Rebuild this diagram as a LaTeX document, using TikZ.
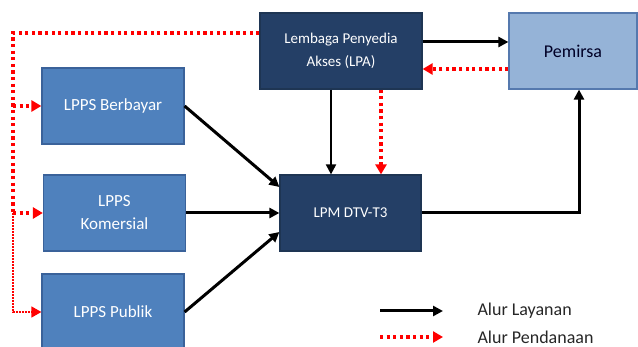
\documentclass[tikz,border=0pt]{standalone}
\usepackage{fontspec}
\setmainfont{Carlito}
\usetikzlibrary{arrows.meta}
\definecolor{lppsfill}{HTML}{4F81BD}
\definecolor{lppsline}{HTML}{3A629A}
\definecolor{navyfill}{HTML}{243F66}
\definecolor{navyline}{HTML}{1E3553}
\definecolor{pemfill}{HTML}{95B3D7}
\definecolor{pemline}{HTML}{5579AE}
\tikzset{
  lpps/.style={draw=lppsline, fill=lppsfill, line width=1.2pt, text=white, inner sep=0pt,
    minimum width=142pt, minimum height=76pt, align=center, font=\fontsize{17}{23}\selectfont},
  navy/.style={draw=navyline, fill=navyfill, line width=1.2pt, text=white, inner sep=0pt,
    minimum height=76pt, align=center, font=\fontsize{15}{23}\selectfont},
  flow/.style={draw=black, line width=3pt, -{Triangle[length=10pt, width=10pt]}},
  fund/.style={draw=red, line width=3.2pt, dash pattern=on 3.2pt off 3.4pt, -{Triangle[length=10pt, width=11pt]}}
}
\begin{document}
\begin{tikzpicture}[x=1pt, y=-1pt]
    \useasboundingbox (0,0) rectangle (638,347);

    % Boxes
    \node[navy, minimum width=162pt] (lpa) at (341,51) {Lembaga Penyedia\\Akses (LPA)};
    \node[draw=pemline, fill=pemfill, line width=1.2pt, inner sep=0pt, minimum width=128pt,
      minimum height=76pt, text=black!85!blue, font=\fontsize{18}{22}\selectfont] (pem) at (573,51) {Pemirsa};
    \node[lpps] (bay) at (113,106) {LPPS Berbayar};
    \node[lpps] (kom) at (114.5,213) {LPPS\\Komersial};
    \node[lpps] (pub) at (113,312) {LPPS Publik};
    \node[navy, minimum width=141pt] (lpm) at (350.5,213) {LPM DTV-T3};

    % Alur Layanan
    \draw[flow] ([yshift=9pt]lpa.east) -- ([yshift=9pt]pem.west);
    \draw[flow, line width=2pt] ([xshift=-10pt]lpa.south) -- ([xshift=-10pt]lpa.south |- lpm.north);
    \draw[flow] (lpm.east) -| ([xshift=6pt]pem.south);
    \draw[flow] (bay.east) -- ([yshift=26pt]lpm.west);
    \draw[flow] (kom.east) -- (lpm.west);
    \draw[flow] (pub.east) -- ([yshift=-19pt]lpm.west);

    % Alur Pendanaan
    \coordinate (rail) at (13,0);
    \draw[fund] ([yshift=-18pt]pem.west) -- ([yshift=-18pt]lpa.east);
    \draw[fund] ([xshift=40pt]lpa.south) -- ([xshift=40pt]lpa.south |- lpm.north);
    \draw[fund, -] ([yshift=18pt]lpa.west) -| (rail |- kom.west);
    \draw[fund] (rail |- bay.west) -- (bay.west);
    \draw[fund] (rail |- kom.west) -- (kom.west);
    \draw[fund, line width=1.4pt, dash pattern=on 1.6pt off 1.4pt] (rail |- kom.west) -- (rail |- pub.west) -- (pub.west);

    % Legend
    \coordinate (lay) at (380,311);
    \coordinate (dana) at (380,337);
    \draw[flow] (lay) -- ++(63,0) coordinate (layend);
    \draw[fund] (dana) -- ++(63,0) coordinate (danaend);
    \node[anchor=west, font=\fontsize{18}{22}\selectfont, text=black!85] (laytext) at (474,311) {Alur Layanan};
    \node[anchor=west, font=\fontsize{18}{22}\selectfont, text=black!85] (danatext) at (474,337) {Alur Pendanaan};

\end{tikzpicture}
\end{document}
